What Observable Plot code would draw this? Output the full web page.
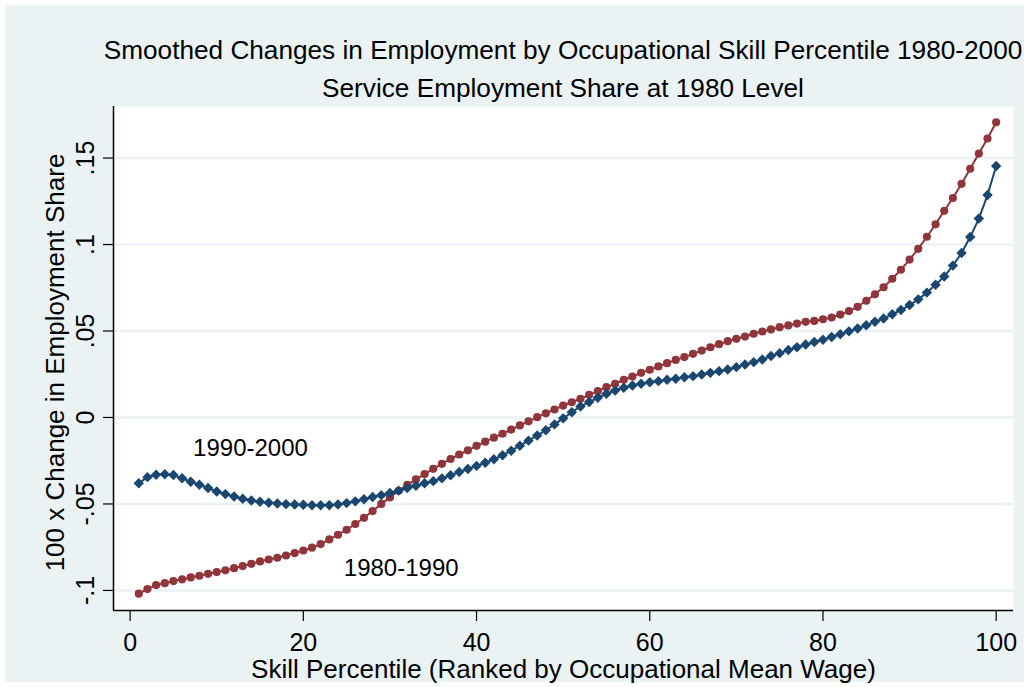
<!DOCTYPE html>
<html>
<head>
<meta charset="utf-8">
<script src="https://cdn.jsdelivr.net/npm/d3@7"></script>
<script src="https://cdn.jsdelivr.net/npm/@observablehq/plot@0.6"></script>
<style>
  html, body { margin: 0; padding: 0; background: #ffffff; }
  body { width: 1029px; height: 687px; position: relative; overflow: hidden; font-family: "Liberation Sans", Arial, sans-serif; }
  #panel { position: absolute; left: 5px; top: 5px; width: 1019px; height: 677px; background: #EAF2F3; }
  #title { position: absolute; left: 113px; top: 31px; width: 900px; text-align: center; font-size: 26.2px; line-height: 38px; color: #000; white-space: nowrap; }
  #title div { overflow: visible; display: flex; justify-content: center; }
  #chart { position: absolute; left: 0; top: 100px; }
  #chart svg { overflow: visible; }
</style>
</head>
<body>
<div id="panel"></div>
<div id="title">
  <div>Smoothed Changes in Employment by Occupational Skill Percentile 1980-2000</div>
  <div>Service Employment Share at 1980 Level</div>
</div>
<div id="chart"></div>
<script>
// Skill percentile (x categories)
const percentile = [1,2,3,4,5,6,7,8,9,10,11,12,13,14,15,16,17,18,19,20,
  21,22,23,24,25,26,27,28,29,30,31,32,33,34,35,36,37,38,39,40,
  41,42,43,44,45,46,47,48,49,50,51,52,53,54,55,56,57,58,59,60,
  61,62,63,64,65,66,67,68,69,70,71,72,73,74,75,76,77,78,79,80,
  81,82,83,84,85,86,87,88,89,90,91,92,93,94,95,96,97,98,99,100];

// 1980-1990 series (red, circles)
const change8090 = [
  -0.1019,-0.0992,-0.0969,-0.0958,-0.0946,-0.0936,-0.0925,-0.0915,-0.0904,-0.0894,
  -0.0884,-0.0871,-0.0859,-0.0846,-0.0832,-0.0821,-0.0811,-0.0798,-0.0784,-0.0769,
  -0.0753,-0.0732,-0.0705,-0.0678,-0.0649,-0.0616,-0.0580,-0.0541,-0.0500,-0.0462,
  -0.0424,-0.0390,-0.0358,-0.0327,-0.0297,-0.0268,-0.0240,-0.0214,-0.0190,-0.0164,
  -0.0140,-0.0117,-0.0094,-0.0070,-0.0046,-0.0022,0.0002,0.0024,0.0046,0.0069,
  0.0088,0.0108,0.0131,0.0152,0.0175,0.0195,0.0218,0.0237,0.0258,0.0276,
  0.0295,0.0314,0.0333,0.0349,0.0368,0.0387,0.0406,0.0424,0.0441,0.0455,
  0.0468,0.0484,0.0497,0.0509,0.0522,0.0532,0.0543,0.0553,0.0558,0.0568,
  0.0578,0.0595,0.0615,0.0640,0.0675,0.0712,0.0753,0.0802,0.0854,0.0913,
  0.0975,0.1045,0.1117,0.1195,0.1269,0.1351,0.1438,0.1526,0.1613,0.1707];

// 1990-2000 series (blue, diamonds)
const change9000 = [
  -0.0380,-0.0345,-0.0331,-0.0328,-0.0333,-0.0351,-0.0372,-0.0389,-0.0408,-0.0428,
  -0.0443,-0.0457,-0.0470,-0.0480,-0.0487,-0.0493,-0.0497,-0.0501,-0.0503,-0.0505,
  -0.0507,-0.0507,-0.0507,-0.0503,-0.0495,-0.0485,-0.0473,-0.0460,-0.0449,-0.0437,
  -0.0423,-0.0408,-0.0395,-0.0380,-0.0368,-0.0352,-0.0334,-0.0315,-0.0298,-0.0280,
  -0.0262,-0.0242,-0.0218,-0.0192,-0.0163,-0.0134,-0.0104,-0.0074,-0.0040,-0.0005,
  0.0030,0.0064,0.0089,0.0114,0.0137,0.0156,0.0172,0.0185,0.0195,0.0204,
  0.0210,0.0218,0.0224,0.0233,0.0239,0.0249,0.0258,0.0268,0.0277,0.0291,
  0.0306,0.0320,0.0335,0.0355,0.0372,0.0390,0.0406,0.0422,0.0436,0.0449,
  0.0465,0.0481,0.0498,0.0514,0.0533,0.0553,0.0572,0.0597,0.0621,0.0650,
  0.0683,0.0722,0.0767,0.0815,0.0878,0.0951,0.1043,0.1150,0.1286,0.1454];

const xTicks = [0, 20, 40, 60, 80, 100];
const yTicks = [-0.1, -0.05, 0, 0.05, 0.1, 0.15];
const yTickLabels = ["-.1", "-.05", "0", ".05", ".1", ".15"];

const seriesLabels = [
  {name: "1990-2000", x: 13.9, y: -0.018},
  {name: "1980-1990", x: 31.3, y: -0.0873}
];

const xTitle = "Skill Percentile (Ranked by Occupational Mean Wage)";
const yTitle = "100 x Change in Employment Share";

const red = "#90353b";
const blue = "#1a476f";

const red8090 = percentile.map((p, i) => ({p, v: change8090[i]}));
const blue9000 = percentile.map((p, i) => ({p, v: change9000[i]}));
const yTickData = yTicks.map((t, i) => ({t, label: yTickLabels[i]}));

const xDomain = [-1.92, 102];
const yDomain = [-0.1116, 0.1798];

const chart = Plot.plot({
  width: 1029,
  height: 587,
  marginLeft: 113,
  marginRight: 16,
  marginTop: 6,
  marginBottom: 77,
  style: {fontFamily: "'Liberation Sans', Arial, sans-serif", fontSize: "25px", background: "transparent", color: "#000", overflow: "visible"},
  x: {domain: xDomain},
  y: {domain: yDomain},
  marks: [
    Plot.frame({fill: "white", stroke: "none"}),
    Plot.gridY(yTicks, {stroke: "#EAF2F3", strokeOpacity: 1, strokeWidth: 2.5}),
    Plot.axisX(xTicks, {tickSize: 11, tickPadding: 12, fontSize: 25, label: null, stroke: "#000", strokeWidth: 1.2}),
    Plot.axisY(yTicks, {tickSize: 10, tickFormat: () => "", label: null, stroke: "#000", strokeWidth: 1.2}),
    Plot.text(yTickData, {x: xDomain[0], y: "t", text: "label", rotate: -90, dx: -20, textAnchor: "middle", lineAnchor: "bottom", fontSize: 25, fill: "#000"}),
    Plot.ruleX([xDomain[0]], {stroke: "#000", strokeWidth: 1.5}),
    Plot.ruleY([yDomain[0]], {stroke: "#000", strokeWidth: 1.5}),
    Plot.text([xTitle], {frameAnchor: "bottom", dy: 59, text: d => d, fontSize: 26, fill: "#000", textAnchor: "middle", lineAnchor: "middle"}),
    Plot.text([yTitle], {frameAnchor: "left", dx: -58, dy: 4, rotate: -90, text: d => d, fontSize: 26, fill: "#000", textAnchor: "middle", lineAnchor: "middle"}),
    Plot.line(red8090, {x: "p", y: "v", stroke: red, strokeWidth: 2}),
    Plot.dot(red8090, {x: "p", y: "v", r: 4.1, fill: red, stroke: "none", symbol: "circle"}),
    Plot.line(blue9000, {x: "p", y: "v", stroke: blue, strokeWidth: 2}),
    Plot.dot(blue9000, {x: "p", y: "v", r: 4.7, fill: blue, stroke: "none", symbol: "diamond2"}),
    Plot.text(seriesLabels, {x: "x", y: "y", text: "name", fontSize: 24, fill: "#000", lineAnchor: "middle"})
  ]
});
document.getElementById("chart").appendChild(chart);
</script>
</body>
</html>
